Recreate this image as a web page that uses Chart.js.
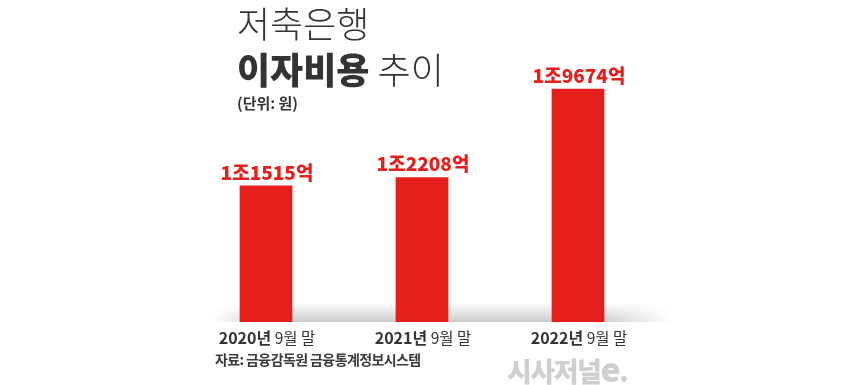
<!DOCTYPE html>
<html><head><meta charset="utf-8">
<script src="https://cdn.jsdelivr.net/npm/chart.js@4/dist/chart.umd.min.js"></script>
<style>
html,body{margin:0;padding:0;background:#fff;}
#wrap{position:relative;width:860px;height:385px;overflow:hidden;font-family:"Noto Sans CJK KR","Noto Sans",sans-serif;}
canvas{position:absolute;left:0;top:0;}
.t{position:absolute;white-space:nowrap;line-height:1;color:#333;}
</style></head>
<body><div id="wrap">
<canvas id="c" width="860" height="385"></canvas>
<div class="t" style="left:237px;top:4px;font-size:36px;font-weight:300;">저축은행</div>
<div class="t" style="left:237px;top:50px;font-size:36px;"><b style="font-weight:900;">이자비용</b> <span style="font-weight:300;">추이</span></div>
<div class="t" style="left:237px;top:95px;font-size:15px;font-weight:700;">(단위: 원)</div>
<div class="t" style="left:215px;top:352px;font-size:14px;font-weight:700;color:#3a3a3a;letter-spacing:-0.6px;">자료: 금융감독원 금융통계정보시스템</div>
<div class="t" style="left:507px;top:351px;font-size:27px;font-weight:900;color:#cfcfcf;letter-spacing:-1.5px;">시사저널<span style="font-size:34px;">e</span>.</div>
</div>
<script>
const years = ["2020년", "2021년", "2022년"];
const periodSuffix = ["9월 말", "9월 말", "9월 말"];
const interestCost = [11515, 12208, 19674]; // 억원
const valueLabels = ["1조1515억", "1조2208억", "1조9674억"];

const RED = "#e5201c";

const deco = {
  id: "deco",
  beforeDatasetsDraw(chart) {
    const ctx = chart.ctx;
    const x0 = 212, x1 = 672, yb = chart.chartArea.bottom, h = 19;
    const oc = document.createElement("canvas");
    oc.width = x1 - x0; oc.height = h;
    const o = oc.getContext("2d");
    const gv = o.createLinearGradient(0, 0, 0, h);
    gv.addColorStop(0, "rgba(0,0,0,0)");
    gv.addColorStop(1, "rgba(0,0,0,0.2)");
    o.fillStyle = gv; o.fillRect(0, 0, oc.width, h);
    o.globalCompositeOperation = "destination-in";
    const gh = o.createLinearGradient(0, 0, oc.width, 0);
    gh.addColorStop(0, "rgba(0,0,0,0)");
    gh.addColorStop(0.12, "rgba(0,0,0,1)");
    gh.addColorStop(0.85, "rgba(0,0,0,1)");
    gh.addColorStop(1, "rgba(0,0,0,0)");
    o.fillStyle = gh; o.fillRect(0, 0, oc.width, h);
    ctx.drawImage(oc, x0, yb - h);
  },
  afterDatasetsDraw(chart) {
    const ctx = chart.ctx;
    const meta = chart.getDatasetMeta(0);
    ctx.save();
    ctx.textBaseline = "alphabetic";
    meta.data.forEach((bar, i) => {
      ctx.font = "900 19px 'Noto Sans CJK KR'";
      ctx.fillStyle = RED;
      ctx.textAlign = "center";
      ctx.fillText(valueLabels[i], bar.x + 1, bar.y - 6);
      ctx.font = "700 16px 'Noto Sans CJK KR'";
      const w1 = ctx.measureText(years[i]).width;
      ctx.font = "400 15.5px 'Noto Sans CJK KR'";
      const w2 = ctx.measureText(" " + periodSuffix[i]).width;
      let sx = bar.x + 1 - (w1 + w2) / 2;
      ctx.textAlign = "left";
      ctx.fillStyle = "#333";
      ctx.font = "700 16px 'Noto Sans CJK KR'";
      ctx.fillText(years[i], sx, 344);
      ctx.font = "400 15.5px 'Noto Sans CJK KR'";
      ctx.fillText(" " + periodSuffix[i], sx + w1, 344);
    });
    ctx.restore();
  }
};

new Chart(document.getElementById("c"), {
  type: "bar",
  data: {
    labels: years,
    datasets: [{ data: interestCost, backgroundColor: RED, borderWidth: 0,
      categoryPercentage: 1, barPercentage: 0.338 }]
  },
  options: {
    responsive: false, animation: false,
    layout: { padding: { left: 188, right: 204, top: 85, bottom: 63 } },
    plugins: { legend: { display: false }, tooltip: { enabled: false } },
    scales: {
      x: { display: false },
      y: { display: false, min: 0, max: 20000 }
    }
  },
  plugins: [deco]
});
</script>
</body></html>
